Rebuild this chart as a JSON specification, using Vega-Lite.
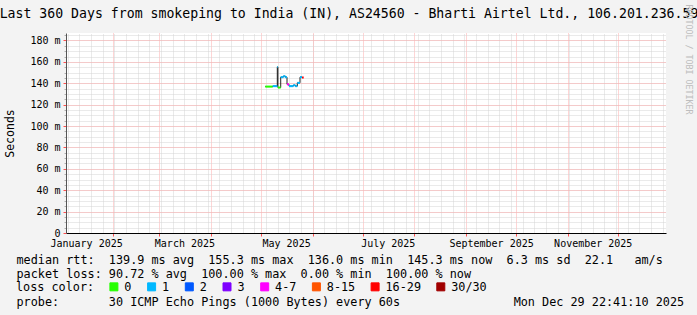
{
  "$schema": "https://vega.github.io/schema/vega-lite/v6.json",
  "width": 600,
  "height": 200,
  "autosize": {"type": "none"},
  "padding": {"left": 66, "top": 33, "right": 31, "bottom": 82},
  "background": "#f3f3f3",
  "config": {
    "view": {"fill": "white", "stroke": null},
    "axis": {"labelFont": "DejaVu Sans Mono", "titleFont": "DejaVu Sans Mono"}
  },
  "data": {
    "values": [
      {"t": "2025-05-03T12:40:00Z", "t2": "2025-05-07T23:17:00Z", "rtt": 136.9, "loss": "0"},
      {"t": "2025-05-07T23:17:00Z", "t2": "2025-05-10T17:30:00Z", "rtt": 137.3, "loss": "1"},
      {"t": "2025-05-10T17:30:00Z", "t2": "2025-05-11T02:00:00Z", "rtt": 155.3, "loss": "1"},
      {"t": "2025-05-11T02:00:00Z", "t2": "2025-05-12T18:30:00Z", "rtt": 136.0, "loss": "0"},
      {"t": "2025-05-12T18:30:00Z", "t2": "2025-05-14T08:00:00Z", "rtt": 145.7, "loss": "1"},
      {"t": "2025-05-14T08:00:00Z", "t2": "2025-05-15T12:40:00Z", "rtt": 146.6, "loss": "1"},
      {"t": "2025-05-15T12:40:00Z", "t2": "2025-05-16T13:10:00Z", "rtt": 145.7, "loss": "1"},
      {"t": "2025-05-16T13:10:00Z", "t2": "2025-05-17T18:00:00Z", "rtt": 139.0, "loss": "4-7"},
      {"t": "2025-05-17T18:00:00Z", "t2": "2025-05-20T08:00:00Z", "rtt": 137.3, "loss": "1"},
      {"t": "2025-05-20T08:00:00Z", "t2": "2025-05-21T12:40:00Z", "rtt": 138.2, "loss": "1"},
      {"t": "2025-05-21T12:40:00Z", "t2": "2025-05-22T17:30:00Z", "rtt": 137.3, "loss": "1"},
      {"t": "2025-05-22T17:30:00Z", "t2": "2025-05-24T08:25:00Z", "rtt": 140.4, "loss": "1"},
      {"t": "2025-05-24T08:25:00Z", "t2": "2025-05-25T13:10:00Z", "rtt": 145.7, "loss": "1"},
      {"t": "2025-05-25T13:10:00Z", "t2": "2025-05-26T13:40:00Z", "rtt": 145.3, "loss": "16-29"}
    ]
  },
  "resolve": {"axis": {"x": "independent", "y": "independent"}},
  "layer": [
    {
      "mark": {"type": "line", "interpolate": "step-after", "color": "#222222", "strokeWidth": 1},
      "encoding": {
        "x": {
          "field": "t", "type": "temporal",
          "scale": {"type": "utc", "domain": [
            {"year": 2025, "month": 1, "date": 3, "hours": 22, "minutes": 41, "seconds": 10, "utc": true},
            {"year": 2025, "month": 12, "date": 29, "hours": 22, "minutes": 41, "seconds": 10, "utc": true}
          ]},
          "axis": {"orient": "top", "grid": true, "gridColor": "#d4d4d4", "gridDash": [1, 1], "gridWidth": 1,
            "tickCount": {"interval": "week", "step": 1}, "labels": false, "ticks": false, "domain": false,
            "title": "Last 360 Days from smokeping to India (IN), AS24560 - Bharti Airtel Ltd., 106.201.236.59",
            "titleFont": "DejaVu Sans Mono", "titleFontSize": 13.2, "titleFontWeight": "normal", "titleColor": "black",
            "titleAlign": "center", "titleAnchor": "start", "titleBaseline": "alphabetic",
            "titleX": 282.5, "titleY": -15.5}
        },
        "y": {
          "field": "rtt", "type": "quantitative",
          "scale": {"domain": [0, 187], "nice": false, "zero": true},
          "axis": {"orient": "left", "values": [5,10,15,20,25,30,35,40,45,50,55,60,65,70,75,80,85,90,95,100,105,110,115,120,125,130,135,140,145,150,155,160,165,170,175,180,185],
            "grid": true, "gridColor": "#d4d4d4", "gridDash": [1, 1], "gridWidth": 1,
            "labels": false, "ticks": true, "tickSize": 2, "tickColor": "#b0b0b0", "domain": false, "title": null}
        }
      }
    },
    {
      "mark": {"type": "rule", "strokeWidth": 2},
      "encoding": {
        "x": {
          "field": "t", "type": "temporal",
          "axis": {"orient": "bottom", "grid": true, "gridColor": "#ffaaaa", "gridDash": [1, 1], "gridWidth": 1,
            "tickCount": {"interval": "month", "step": 1}, "labels": false, "ticks": true, "tickColor": "#ff5050", "tickSize": 3,
            "domain": false,
            "title": "probe:\u00a0\u00a0\u00a0\u00a0\u00a0\u00a0\u00a030\u00a0ICMP\u00a0Echo\u00a0Pings\u00a0(1000\u00a0Bytes)\u00a0every\u00a060s\u00a0\u00a0\u00a0\u00a0\u00a0\u00a0\u00a0\u00a0\u00a0\u00a0\u00a0\u00a0\u00a0\u00a0\u00a0\u00a0Mon\u00a0Dec\u00a029\u00a022:41:10\u00a02025",
            "titleFont": "DejaVu Sans Mono", "titleFontSize": 11.8, "titleFontWeight": "normal", "titleColor": "black",
            "titleAlign": "left", "titleAnchor": "start", "titleBaseline": "alphabetic",
            "titleX": -50, "titleY": 72.3}
        },
        "x2": {"field": "t2"},
        "y": {
          "field": "rtt", "type": "quantitative",
          "axis": {"orient": "left", "values": [0,20,40,60,80,100,120,140,160,180],
            "grid": true, "gridColor": "#ffaaaa", "gridDash": [1, 1], "gridWidth": 1,
            "labelExpr": "datum.value == 0 ? '0' : datum.value + ' m'",
            "labelFont": "DejaVu Sans Mono", "labelFontSize": 10, "labelColor": "black", "labelPadding": 3,
            "ticks": true, "tickColor": "#ff5050", "tickSize": 3,
            "domain": true, "domainColor": "#555555", "domainWidth": 1,
            "title": "Seconds", "titleFont": "DejaVu Sans Mono", "titleFontSize": 11.5, "titleFontWeight": "normal",
            "titleColor": "black", "titleAngle": 270, "titleX": -55.2, "titleY": 100, "titleAlign": "center", "titleBaseline": "middle"}
        },
        "color": {
          "field": "loss", "type": "nominal",
          "scale": {"domain": ["0", "1", "2", "3", "4-7", "8-15", "16-29", "30/30"],
            "range": ["#26ff00", "#00b8ff", "#0059ff", "#7e00ff", "#ff00ff", "#ff5500", "#ff0000", "#a10000"]},
          "legend": {
            "orient": "none", "legendX": -50, "legendY": 247.8, "direction": "horizontal", "padding": 0,
            "title": "loss\u00a0color:", "titleOrient": "left", "titleFont": "DejaVu Sans Mono", "titleFontSize": 11.8,
            "titleFontWeight": "normal", "titleColor": "black", "titlePadding": 13, "titleBaseline": "middle",
            "labelFont": "DejaVu Sans Mono", "labelFontSize": 11.8, "labelColor": "black", "labelOffset": 4.5,
            "columnPadding": 12.7, "symbolType": "square", "symbolSize": 64,
            "symbolStrokeColor": "black", "symbolStrokeWidth": 1,
            "encode": {"symbols": {"update": {
              "fill": {"scale": "color", "field": "value"},
              "stroke": {"value": "black"},
              "strokeWidth": {"value": 1},
              "shape": {"value": "square"},
              "opacity": {"value": 1}
            }}}
          }
        }
      }
    },
    {
      "mark": {"type": "point", "opacity": 0},
      "encoding": {
        "x": {
          "field": "t", "type": "temporal",
          "axis": {"orient": "bottom",
            "values": [
              {"year": 2025, "month": 1, "date": 16, "utc": true},
              {"year": 2025, "month": 3, "date": 16, "utc": true},
              {"year": 2025, "month": 5, "date": 16, "utc": true},
              {"year": 2025, "month": 7, "date": 16, "utc": true},
              {"year": 2025, "month": 9, "date": 16, "utc": true},
              {"year": 2025, "month": 11, "date": 16, "utc": true}
            ],
            "labelExpr": "utcFormat(datum.value, '%B %Y')",
            "labelFont": "DejaVu Sans Mono", "labelFontSize": 10, "labelColor": "black", "labelPadding": 5,
            "labelFlush": false, "labelOverlap": false,
            "ticks": false, "tickSize": 0, "grid": false,
            "domain": true, "domainColor": "black", "domainWidth": 1,
            "title": [
              "median\u00a0rtt:\u00a0\u00a0139.9\u00a0ms\u00a0avg\u00a0\u00a0155.3\u00a0ms\u00a0max\u00a0\u00a0136.0\u00a0ms\u00a0min\u00a0\u00a0145.3\u00a0ms\u00a0now\u00a0\u00a06.3\u00a0ms\u00a0sd\u00a0\u00a022.1\u00a0\u00a0\u00a0am/s",
              "packet\u00a0loss:\u00a090.72\u00a0%\u00a0avg\u00a0\u00a0100.00\u00a0%\u00a0max\u00a0\u00a00.00\u00a0%\u00a0min\u00a0\u00a0100.00\u00a0%\u00a0now"
            ],
            "titleFont": "DejaVu Sans Mono", "titleFontSize": 11.8, "titleFontWeight": "normal", "titleColor": "black",
            "titleAlign": "left", "titleAnchor": "start", "titleBaseline": "alphabetic",
            "titleX": -50, "titleY": 30.5, "titleLineHeight": 14}
        },
        "y": {
          "field": "rtt", "type": "quantitative",
          "axis": {"orient": "right", "labels": false, "ticks": false, "grid": false, "domain": false,
            "title": "RRDTOOL / TOBI OETIKER", "titleFont": "DejaVu Sans Mono", "titleFontSize": 8.3, "titleFontWeight": "normal",
            "titleColor": "#bdbdbd", "titleAngle": 90, "titleX": 21.3, "titleY": 26, "titleAlign": "center", "titleBaseline": "middle"}
        }
      }
    }
  ]
}
